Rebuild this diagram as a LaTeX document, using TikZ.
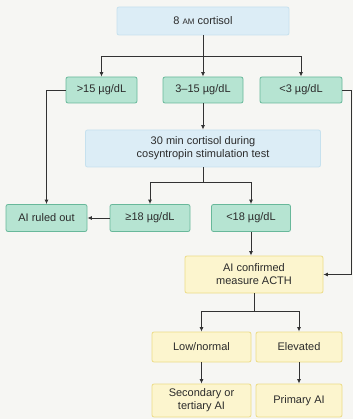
\documentclass[tikz,border=0pt]{standalone}
\usepackage{fontspec}
\setmainfont{Liberation Sans}
\usepackage{tikz}
\usetikzlibrary{arrows.meta}
\definecolor{cPaper}{RGB}{246, 246, 243}
\definecolor{cInk}{RGB}{50, 50, 50}
\definecolor{cBlueFill}{RGB}{220, 237, 246}
\definecolor{cBlueLine}{RGB}{198, 225, 238}
\definecolor{cGreenFill}{RGB}{182, 228, 210}
\definecolor{cGreenLine}{RGB}{104, 184, 154}
\definecolor{cYellowFill}{RGB}{252, 245, 206}
\definecolor{cYellowLine}{RGB}{236, 220, 135}

\begin{document}
\begin{tikzpicture}[x=1pt, y=-1pt,
  font=\fontsize{11}{13}\selectfont,
  box/.style={rounded corners=2pt, line width=0.8pt, inner sep=0pt,
    align=center, text=cInk!85!black},
  blueBox/.style={box, fill=cBlueFill, draw=cBlueLine},
  greenBox/.style={box, fill=cGreenFill, draw=cGreenLine},
  yellowBox/.style={box, fill=cYellowFill, draw=cYellowLine},
  link/.style={draw=cInk, line width=0.9pt},
  arr/.style={link, -{Latex[length=4.5pt, width=4pt]}}]

  % ---- page ----
  \fill[cPaper] (0,0) rectangle (353,419);
  \useasboundingbox (0,0) rectangle (353,419);

  % ---- screening ----
  \node[blueBox, minimum width=172pt, minimum height=28pt] (morning) at (203,21)
    {8 {\fontsize{8}{9}\selectfont AM} cortisol};
  \node[greenBox, minimum width=71pt, minimum height=26pt] (gtFifteen) at (101.5,90) {>15 µg/dL};
  \node[greenBox, minimum width=80pt, minimum height=26pt] (midRange) at (203,90) {3–15 µg/dL};
  \node[greenBox, minimum width=82pt, minimum height=26pt] (ltThree) at (301,90) {<3 µg/dL};

  % ---- stimulation test ----
  \node[blueBox, minimum width=235pt, minimum height=37pt] (stim) at (203,148.5)
    {30 min cortisol during\\cosyntropin stimulation test};
  \node[greenBox, minimum width=81pt, minimum height=27pt] (ruledOut) at (46.5,218) {AI ruled out};
  \node[greenBox, minimum width=80pt, minimum height=27pt] (geEighteen) at (150,218) {≥18 µg/dL};
  \node[greenBox, minimum width=79pt, minimum height=27pt] (ltEighteen) at (251,218) {<18 µg/dL};

  % ---- ACTH ----
  \node[yellowBox, minimum width=138pt, minimum height=37pt] (confirmed) at (254,274.5)
    {AI confirmed\\measure ACTH};
  \node[yellowBox, minimum width=99pt, minimum height=30pt] (lowNormal) at (201.5,347) {Low/normal};
  \node[yellowBox, minimum width=86pt, minimum height=30pt] (elevated) at (299,347) {Elevated};
  \node[yellowBox, minimum width=99pt, minimum height=33pt] (secondary) at (201.5,400.5)
    {Secondary or\\tertiary AI};
  \node[yellowBox, minimum width=86pt, minimum height=33pt] (primary) at (299,400.5) {Primary AI};

  % ---- branch points ----
  \coordinate (splitTop) at (203,56);
  \coordinate (splitStim) at (203,182);
  \coordinate (splitActh) at ([yshift=-18pt]confirmed.south);
  \coordinate (rightRail) at (351,0);

  % ---- connectors ----
  \draw[link] (morning) -- (splitTop);
  \foreach \dest in {gtFifteen, ltThree}
    \draw[arr] (splitTop) -| (\dest);
  \draw[arr] (splitTop) -- (midRange);
  \draw[arr] (midRange) -- (stim);

  \draw[link] (stim) -- (splitStim);
  \foreach \dest in {geEighteen, ltEighteen}
    \draw[arr] (splitStim) -| (\dest);
  \draw[arr] (geEighteen) -- (ruledOut);
  \draw[arr] (gtFifteen.west) -| (ruledOut);
  \draw[arr] (ltEighteen) -- (ltEighteen |- confirmed.north);
  \draw[arr] (ltThree.east) -- (ltThree.east -| rightRail) |- (confirmed.east);

  \draw[link] (confirmed) -- (splitActh);
  \foreach \dest in {lowNormal, elevated}
    \draw[arr] (splitActh) -| (\dest);
  \draw[arr] (lowNormal) -- (secondary);
  \draw[arr] (elevated) -- (primary);

\end{tikzpicture}
\end{document}
